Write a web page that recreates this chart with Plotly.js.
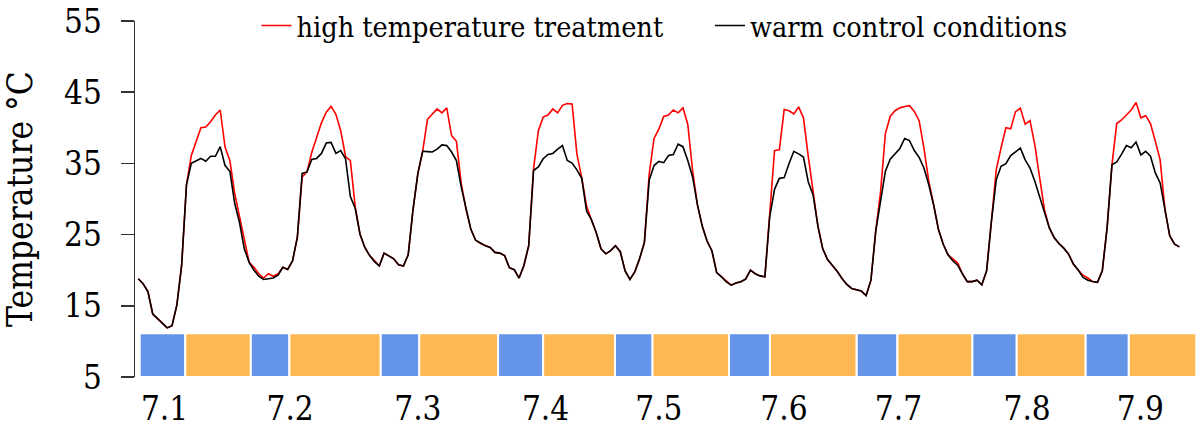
<!DOCTYPE html>
<html>
<head>
<meta charset="utf-8">
<script src="https://cdn.plot.ly/plotly-3.0.1.min.js"></script>
<style>html,body{margin:0;padding:0;background:#fff}#chart{width:1200px;height:428px}</style>
</head>
<body>
<div id="chart"></div>
<script>
// Hourly temperatures (°C), one value per hour, 7.1 – 7.9
var warmControl = [
18.8,18.1,17.0,13.85,13.2,12.56,11.9,12.2,15.1,20.7,
32.0,35.0,35.4,35.7,35.3,36.0,36.0,37.35,34.7,33.9,
29.4,26.7,23.0,21.1,20.0,19.15,18.7,18.8,18.9,19.3,
20.4,20.1,21.3,24.6,33.6,33.8,35.55,35.7,36.4,37.86,
37.95,36.4,36.8,35.65,30.35,28.7,25.05,23.2,22.05,21.2,
20.6,22.4,22.05,21.6,20.76,20.58,22.15,28.5,33.57,36.7,
36.66,36.6,37.0,37.6,37.5,36.6,35.4,31.7,28.7,25.74,
24.2,23.76,23.44,23.2,22.5,22.4,22.05,20.35,20.07,18.9,
20.67,23.44,34.0,34.5,35.65,36.25,36.4,37.0,37.5,35.4,
35.05,34.1,32.9,28.3,27.1,25.3,23.0,22.3,22.75,23.44,
22.6,19.9,18.7,19.75,21.6,23.9,32.65,34.7,35.28,35.1,
36.1,36.25,37.7,37.35,35.4,33.1,29.2,26.2,24.1,22.74,
19.66,19.06,18.37,17.9,18.2,18.37,18.74,20.0,19.5,19.2,
19.06,27.5,31.36,32.9,33.0,34.96,36.7,36.34,35.9,32.4,
30.58,26.2,23.0,21.5,20.67,19.84,18.83,18.0,17.44,17.3,
17.07,16.43,18.6,25.5,29.7,33.9,35.6,36.3,37.1,38.5,
38.2,36.8,35.85,34.35,32.0,29.2,25.75,23.65,22.16,21.3,
20.7,19.46,18.4,18.4,18.6,17.95,19.9,26.9,32.7,34.6,
34.96,36.1,36.6,37.15,35.5,34.35,32.5,30.3,28.07,25.98,
24.58,23.75,23.1,22.26,20.86,20.02,19.0,18.6,18.4,18.3,
19.93,25.98,34.8,35.2,36.3,37.5,37.2,38.0,36.2,36.7,
36.0,33.66,32.26,28.3,24.8,23.65,23.28
];
var highTreatment = [
18.8,18.1,17.0,13.85,13.2,12.56,11.9,12.2,15.1,20.7,
32.0,36.1,38.2,40.0,40.1,40.85,41.8,42.5,37.3,35.4,
30.8,27.6,24.8,21.1,20.4,19.5,18.9,19.5,19.15,19.5,
20.4,20.1,21.3,24.6,33.1,33.8,36.57,38.7,40.7,42.2,
43.0,41.9,39.6,35.97,35.4,28.96,25.05,23.2,22.05,21.36,
20.6,22.4,22.05,21.6,20.76,20.58,22.15,28.5,33.57,36.7,
41.2,41.9,42.65,42.1,42.8,38.9,38.1,32.2,28.5,25.74,
24.2,23.76,23.44,23.2,22.5,22.4,22.05,20.35,20.07,18.9,
20.67,23.44,34.2,39.6,41.5,41.8,42.65,42.1,43.16,43.4,
43.34,36.3,33.0,29.0,27.1,25.3,23.0,22.3,22.75,23.44,
22.6,19.9,18.7,19.75,21.6,23.9,33.5,38.5,39.8,41.6,
41.8,42.5,42.1,42.8,40.5,34.0,29.2,26.2,24.1,22.74,
19.66,19.06,18.37,17.9,18.2,18.37,18.74,20.0,19.5,19.2,
19.06,28.0,36.8,36.9,42.56,42.4,41.96,42.93,41.4,36.0,
31.0,26.2,23.0,21.5,20.67,19.84,18.83,18.0,17.44,17.3,
17.07,16.43,18.6,25.5,31.0,39.2,41.6,42.4,42.8,43.0,
43.1,42.3,41.0,37.1,32.5,29.2,25.75,23.65,22.16,21.6,
21.0,19.46,18.4,18.4,18.6,17.95,19.9,26.9,34.1,37.2,
40.0,39.85,42.27,42.73,40.5,41.0,37.6,33.0,28.5,25.98,
24.58,23.75,23.1,22.26,20.86,20.02,19.3,18.9,18.4,18.3,
19.93,25.98,34.8,40.6,41.1,41.8,42.5,43.57,41.4,41.7,
40.6,38.1,35.5,28.5,24.8,23.65,23.28
];
// Day/night band along the bottom: period boundaries (hours) and type
var periodEdges = [0.3,9.75,23.35,31.35,50.3,58.3,74.65,84.0,98.9,106.7,122.55,131.05,149.05,157.5,173.05,182.25,196.55,205.5,219.5];
var periodType = ["night","day","night","day","night","day","night","day","night","day","night","day","night","day","night","day","night","day"];
var bandBase = 5;
var bandTop = 11.15;
// Date labels and their hour positions
var dateLabels = ["7.1","7.2","7.3","7.4","7.5","7.6","7.7","7.8","7.9"];
var datePositions = [5.44,31.5,58.0,84.5,108.0,133.95,157.7,184.4,207.9];

var colorOf = {night: "#6495E8", day: "#FDB853"};
var bandX = [], bandW = [], bandC = [], bandY = [];
for (var i = 0; i < periodType.length; i++) {
  bandX.push((periodEdges[i] + periodEdges[i+1]) / 2);
  bandW.push(periodEdges[i+1] - periodEdges[i]);
  bandC.push(colorOf[periodType[i]]);
  bandY.push(bandTop - bandBase);
}

var serif = "DejaVu Serif Condensed";
var traces = [
  {type: "bar", x: bandX, y: bandY, base: bandBase, width: bandW,
   marker: {color: bandC, line: {color: "#ffffff", width: 2}},
   showlegend: false, hoverinfo: "skip"},
  {type: "scatter", mode: "lines", y: highTreatment, name: "high temperature treatment",
   line: {color: "#ff0000", width: 1.6}, legend: "legend"},
  {type: "scatter", mode: "lines", y: warmControl, name: "warm control conditions",
   line: {color: "#000000", width: 1.6}, legend: "legend2"}
];

var legendCommon = {orientation: "h", yanchor: "middle", y: 0.986, xanchor: "left",
  bgcolor: "rgba(0,0,0,0)", borderwidth: 0, font: {family: serif, size: 28.5, color: "#000"}};

var layout = {
  width: 1200, height: 428,
  margin: {l: 135, r: 0, t: 15, b: 51.3},
  paper_bgcolor: "#fff", plot_bgcolor: "#fff",
  bargap: 0,
  xaxis: {range: [-0.68, 220.27], showgrid: false, zeroline: false, showline: false,
    ticks: "", tickmode: "array", tickvals: datePositions, ticktext: dateLabels,
    tickfont: {family: serif, size: 33, color: "#000"}, ticklabelstandoff: 9, ticklabeloverflow: "allow"},
  yaxis: {range: [5, 55], showgrid: false, zeroline: false, showline: true,
    linecolor: "#333", linewidth: 1.5, ticks: "outside", ticklen: 13, tickwidth: 1.5, tickcolor: "#333",
    tickmode: "array", tickvals: [5,15,25,35,45,55], ticktext: ["5","15","25","35","45","55"],
    tickfont: {family: serif, size: 33, color: "#000"}, ticklabelstandoff: 12, ticklabeloverflow: "allow",
    title: {text: "Temperature °C", font: {family: serif, size: 35, color: "#000"}, standoff: 22}},
  legend: Object.assign({}, legendCommon, {x: 0.1141}),
  legend2: Object.assign({}, legendCommon, {x: 0.5399}),
  showlegend: true
};
Plotly.newPlot("chart", traces, layout, {staticPlot: true, displayModeBar: false});
</script>
</body>
</html>
